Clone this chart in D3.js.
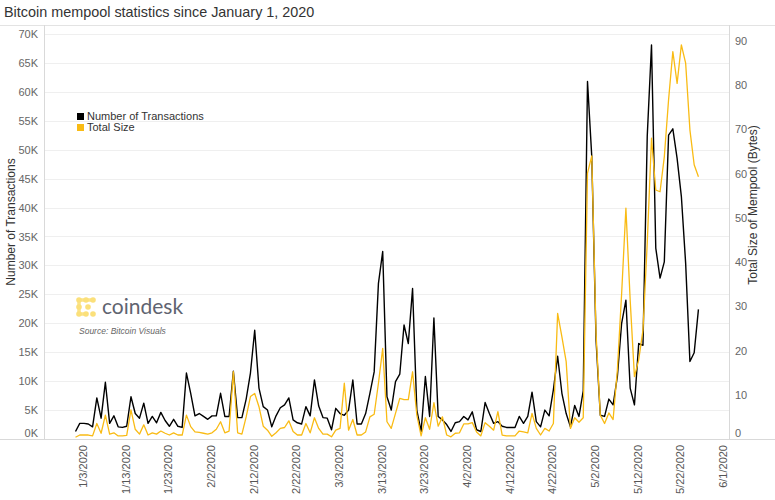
<!DOCTYPE html>
<html>
<head>
<meta charset="utf-8">
<script src="https://cdn.jsdelivr.net/npm/d3@7"></script>
<style>
  body { margin: 0; background: #fff; }
  svg { display: block; font-family: "Liberation Sans", Arial, sans-serif; }
</style>
</head>
<body>
<div id="chart"></div>
<script>
// ---------- DATA ----------
const startDate = "2020-01-01"; // first daily observation
// Number of transactions in mempool (thousands), daily from Jan 1, 2020
const txCountK = [
  1.3, 2.7, 2.7, 2.6, 2.1, 7.1, 3.6, 9.8, 2.7, 4.0,
  2.1, 2.0, 2.2, 7.3, 4.4, 3.6, 6.2, 2.7, 3.9, 2.8,
  4.6, 3.2, 2.2, 3.4, 2.2, 2.0, 11.4, 7.9, 4.0, 4.4,
  3.9, 3.4, 4.0, 4.0, 7.9, 3.9, 3.9, 11.7, 3.7, 3.7,
  6.9, 11.4, 18.8, 8.8, 5.6, 5.0, 2.1, 4.0, 5.4, 5.9,
  7.1, 3.3, 2.8, 2.6, 5.6, 4.0, 10.2, 5.7, 3.7, 3.6,
  1.6, 5.3, 4.4, 4.1, 5.0, 10.2, 2.6, 2.6, 4.4, 7.9,
  11.6, 26.9, 32.4, 7.3, 5.0, 9.9, 11.2, 19.7, 16.5, 26.0,
  5.0, 1.3, 10.8, 3.9, 20.9, 3.9, 3.3, 2.5, 1.3, 2.8,
  3.0, 3.9, 3.3, 4.7, 1.6, 1.3, 6.3, 4.4, 2.7, 3.0,
  2.2, 2.0, 2.0, 2.0, 3.9, 2.7, 3.9, 8.1, 3.0, 2.1,
  5.0, 4.0, 8.5, 14.3, 7.9, 4.4, 2.1, 5.8, 3.9, 8.3,
  61.8, 48.8, 17.1, 4.1, 3.9, 6.9, 5.9, 10.8, 20.0, 24.0,
  8.8, 5.9, 16.5, 16.2, 52.3, 68.1, 33.0, 27.8, 30.6, 52.5,
  53.6, 48.5, 41.9, 30.4, 13.4, 14.9, 22.4
];
// Total size of mempool (right axis), daily from Jan 1, 2020
const totalSize = [
  0.4, 0.9, 0.9, 0.9, 0.7, 3.5, 1.3, 5.4, 1.1, 1.4,
  0.7, 0.7, 0.8, 6.6, 2.2, 1.1, 3.2, 0.9, 1.4, 1.1,
  1.8, 1.3, 0.9, 1.4, 0.9, 0.9, 5.4, 2.8, 1.6, 1.5,
  1.3, 1.1, 1.4, 2.2, 3.9, 1.4, 1.8, 15.2, 1.4, 1.1,
  5.0, 9.6, 10.3, 7.3, 2.9, 2.0, 0.6, 1.4, 2.4, 2.6,
  4.1, 1.7, 0.9, 0.9, 3.5, 1.4, 4.8, 2.4, 1.1, 1.1,
  0.5, 2.0, 2.4, 12.6, 2.0, 4.4, 0.9, 0.9, 1.6, 5.0,
  5.6, 12.6, 20.5, 3.9, 2.4, 5.8, 9.2, 8.9, 8.9, 15.2,
  5.4, 0.7, 4.8, 2.2, 8.2, 2.9, 5.0, 0.9, 0.5, 1.3,
  1.4, 3.4, 3.4, 3.7, 1.6, 0.7, 3.7, 2.9, 2.0, 6.2,
  0.9, 0.7, 0.7, 0.7, 1.8, 1.6, 1.4, 5.8, 2.4, 0.9,
  2.4, 1.8, 3.5, 28.4, 23.1, 17.5, 2.4, 4.8, 3.8, 4.8,
  60.1, 64.0, 23.9, 5.4, 3.5, 5.9, 4.4, 15.6, 32.9, 52.2,
  31.4, 14.1, 17.9, 24.6, 44.3, 68.0, 56.3, 55.9, 63.8, 76.7,
  87.6, 80.4, 89.1, 85.0, 69.9, 62.0, 59.3
];
const leftTicksK = [0, 5, 10, 15, 20, 25, 30, 35, 40, 45, 50, 55, 60, 65, 70];
const rightTicks = [0, 10, 20, 30, 40, 50, 60, 70, 80, 90];
const xTickLabels = ["1/3/2020","1/13/2020","1/23/2020","2/2/2020","2/12/2020","2/22/2020",
  "3/3/2020","3/13/2020","3/23/2020","4/2/2020","4/12/2020","4/22/2020","5/2/2020",
  "5/12/2020","5/22/2020","6/1/2020"];
const seriesNames = ["Number of Transactions", "Total Size"];
const seriesColors = ["#000000", "#f9bb14"];

// ---------- CHART ----------
const W = 775, H = 500;
const svg = d3.select("#chart").append("svg").attr("width", W).attr("height", H);

const parse = d3.timeParse("%Y-%m-%d");
const parseTick = d3.timeParse("%m/%d/%Y");
const t0 = parse(startDate);
const dates = txCountK.map((_, i) => d3.timeDay.offset(t0, i));

const plotTop = 25, plotBottom = 439, plotLeft = 44, plotRight = 729;

const x = d3.scaleTime()
  .domain([t0, parseTick("6/1/2020")])
  .range([75.5, 75.5 + 152 * 4.2667]);
const yL = d3.scaleLinear().domain([0, 71.55]).range([plotBottom, plotTop]);
const yR = d3.scaleLinear().domain([0, 93.6]).range([plotBottom, plotTop]);

// title
svg.append("text").attr("x", 4).attr("y", 17)
  .attr("font-size", 14.4).attr("fill", "#333")
  .text("Bitcoin mempool statistics since January 1, 2020");

// frame lines
svg.append("line").attr("x1", 0).attr("x2", W).attr("y1", plotTop + 0.5).attr("y2", plotTop + 0.5)
  .attr("stroke", "#e3e3e3");
svg.append("line").attr("x1", 0).attr("x2", W).attr("y1", plotBottom + 0.5).attr("y2", plotBottom + 0.5)
  .attr("stroke", "#d9d9d9");

// gridlines
svg.append("g").selectAll("line").data(leftTicksK.filter(d => d > 0)).join("line")
  .attr("x1", plotLeft).attr("x2", plotRight)
  .attr("y1", d => Math.round(yL(d)) + 0.5).attr("y2", d => Math.round(yL(d)) + 0.5)
  .attr("stroke", "#efefef");

svg.append("line").attr("x1", plotLeft + 0.5).attr("x2", plotLeft + 0.5).attr("y1", plotTop).attr("y2", plotBottom)
  .attr("stroke", "#d9d9d9");
svg.append("line").attr("x1", plotRight + 0.5).attr("x2", plotRight + 0.5).attr("y1", plotTop).attr("y2", plotBottom)
  .attr("stroke", "#d9d9d9");

// left axis
const gL = svg.append("g").attr("transform", `translate(${plotLeft - 3},0)`)
  .call(d3.axisLeft(yL).tickValues(leftTicksK).tickFormat(d => d + "K").tickSize(0));
gL.select(".domain").remove();
gL.selectAll("text").attr("font-size", 11).attr("fill", "#666").attr("font-family", "Liberation Sans, Arial, sans-serif")
  .attr("dy", d => d === 0 ? "-0.25em" : "0.32em");

// right axis
const gR = svg.append("g").attr("transform", `translate(${plotRight + 3},0)`)
  .call(d3.axisRight(yR).tickValues(rightTicks).tickSize(0));
gR.select(".domain").remove();
gR.selectAll("text").attr("font-size", 11).attr("fill", "#666").attr("font-family", "Liberation Sans, Arial, sans-serif")
  .attr("dy", d => d === 0 ? "-0.25em" : "0.32em");

// bottom axis
const tickDates = xTickLabels.map(s => parseTick(s));
const gX = svg.append("g").attr("transform", `translate(0,${plotBottom})`)
  .call(d3.axisBottom(x).tickValues(tickDates).tickFormat((d, i) => xTickLabels[i]).tickSize(0));
gX.select(".domain").remove();
gX.selectAll("text")
  .attr("font-size", 11).attr("fill", "#555").attr("font-family", "Liberation Sans, Arial, sans-serif")
  .attr("transform", "rotate(-90)")
  .attr("x", -6).attr("y", 0).attr("dy", "0.22em")
  .style("text-anchor", "end");

// axis titles
svg.append("text").attr("transform", `translate(15,${(plotTop + plotBottom) / 2 - 10}) rotate(-90)`)
  .attr("text-anchor", "middle").attr("font-size", 12).attr("fill", "#333")
  .text("Number of Transactions");
svg.append("text").attr("transform", `translate(757,${(plotTop + plotBottom) / 2 - 27}) rotate(-90)`)
  .attr("text-anchor", "middle").attr("font-size", 12).attr("fill", "#333")
  .text("Total Size of Mempool (Bytes)");

// logo
const logo = svg.append("g").attr("transform", "translate(77,298)");
const dots = [[2,2],[9,2],[16,2],[2,9],[2,16],[9,16],[16,16],[11,9]];
logo.append("path").attr("d", "M2,2H16M2,2V16H9").attr("stroke", "#fbe38a").attr("stroke-width", 3.5).attr("fill", "none");
logo.selectAll("circle").data(dots).join("circle")
  .attr("cx", d => d[0]).attr("cy", d => d[1]).attr("r", 2.8).attr("fill", "#fbe07a");
svg.append("text").attr("x", 102).attr("y", 314).attr("font-size", 21).attr("fill", "#5f6470")
  .attr("font-family", "Lato, 'Open Sans', sans-serif").text("coindesk");
svg.append("text").attr("x", 79).attr("y", 334).attr("font-size", 8.5).attr("fill", "#666")
  .attr("font-style", "italic").text("Source: Bitcoin Visuals");

// lines
const lineL = d3.line().x((d, i) => x(dates[i])).y(d => yL(d));
const lineR = d3.line().x((d, i) => x(dates[i])).y(d => yR(d));
svg.append("path").datum(txCountK).attr("d", lineL)
  .attr("fill", "none").attr("stroke", seriesColors[0]).attr("stroke-width", 1.4).attr("stroke-linejoin", "round");
svg.append("path").datum(totalSize).attr("d", lineR)
  .attr("fill", "none").attr("stroke", seriesColors[1]).attr("stroke-width", 1.3).attr("stroke-linejoin", "round");

// legend
const lg = svg.append("g").attr("transform", "translate(77,113)");
seriesNames.forEach((n, i) => {
  lg.append("rect").attr("x", 0).attr("y", i * 11).attr("width", 7).attr("height", 7).attr("fill", seriesColors[i]);
  lg.append("text").attr("x", 10).attr("y", i * 11 + 7).attr("font-size", 11).attr("fill", "#333").text(n);
});
</script>
</body>
</html>
